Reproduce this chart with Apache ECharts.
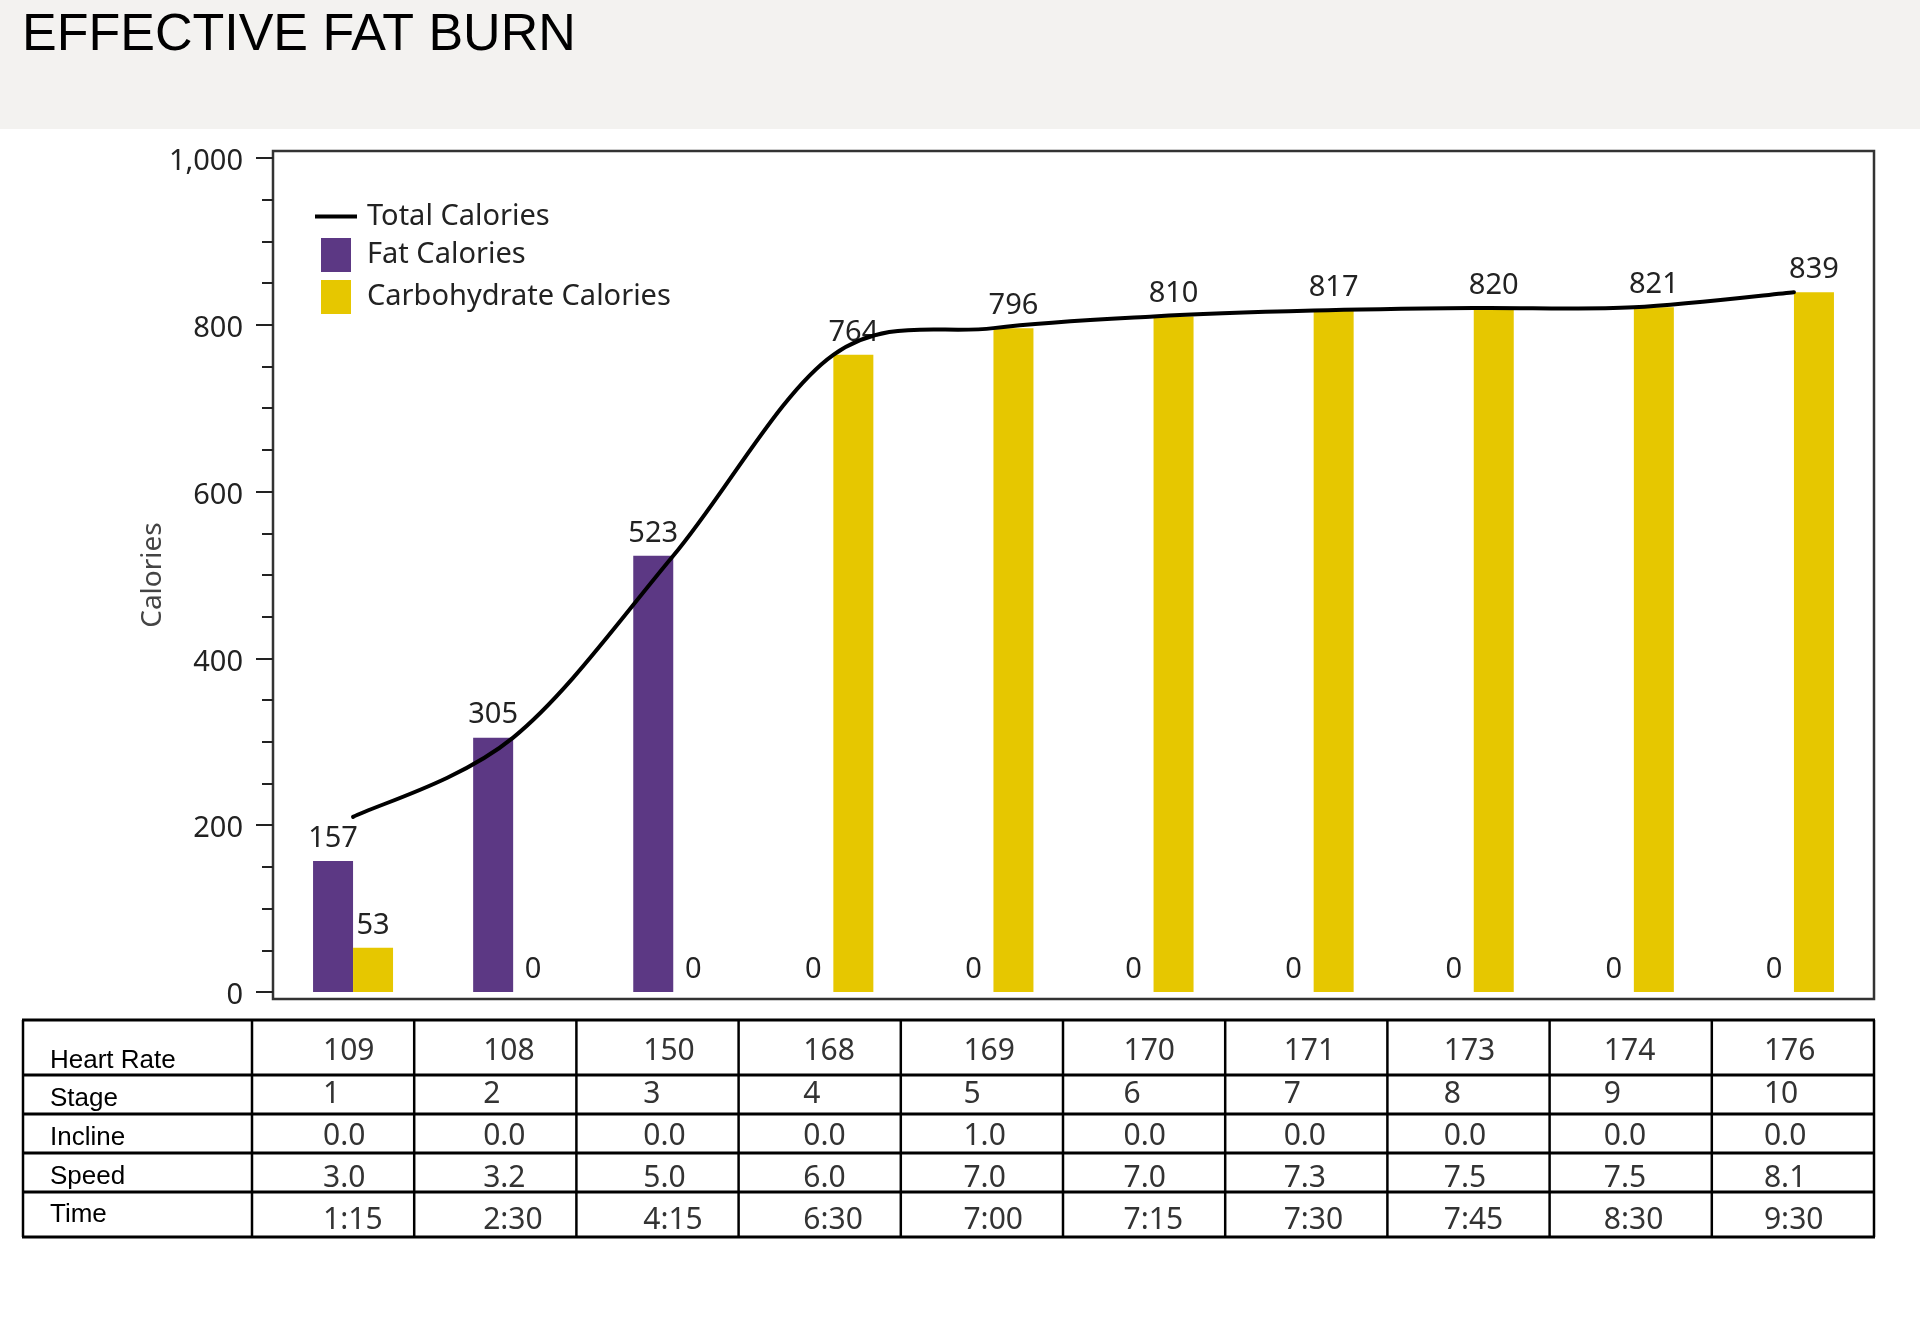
<!DOCTYPE html>
<html><head><meta charset="utf-8">
<script src="https://cdn.jsdelivr.net/npm/echarts@6/dist/echarts.min.js"></script>
<style>html,body{margin:0;padding:0;background:#fff;} #c{width:1920px;height:1325px;}</style>
</head><body><div id="c"></div>
<script>
// ---- data ----
const stages = ['1','2','3','4','5','6','7','8','9','10'];
const fatCalories = [157,305,523,0,0,0,0,0,0,0];
const carbCalories = [53,0,0,764,796,810,817,820,821,839];
const totalCalories = [210,305,523,764,796,810,817,820,821,839];
const heartRate = ['109','108','150','168','169','170','171','173','174','176'];
const incline = ['0.0','0.0','0.0','0.0','1.0','0.0','0.0','0.0','0.0','0.0'];
const speed = ['3.0','3.2','5.0','6.0','7.0','7.0','7.3','7.5','7.5','8.1'];
const time = ['1:15','2:30','4:15','6:30','7:00','7:15','7:30','7:45','8:30','9:30'];
const rowLabels = ['Heart Rate','Stage','Incline','Speed','Time'];
const tableRows = [heartRate, stages, incline, speed, time];

const FONT = 'Noto Sans';
const labelStyle = {show:true, position:'top', distance:8, fontFamily:FONT, fontSize:29, color:'#222'};

// smooth (Catmull-Rom) total line, drawn through the chart's own scales
function renderTotal(params, api){
  if (params.dataIndex !== 0) return;
  const pts = totalCalories.map((v,i)=>api.coord([i,v]));
  const n = pts.length;
  let d = 'M' + pts[0][0] + ',' + pts[0][1];
  for (let i=0;i<n-1;i++){
    const p0 = pts[Math.max(i-1,0)], p1 = pts[i], p2 = pts[i+1], p3 = pts[Math.min(i+2,n-1)];
    const c1x = p1[0] + (p2[0]-p0[0])/6, c1y = p1[1] + (p2[1]-p0[1])/6;
    const c2x = p2[0] - (p3[0]-p1[0])/6, c2y = p2[1] - (p3[1]-p1[1])/6;
    d += ' C' + c1x + ',' + c1y + ' ' + c2x + ',' + c2y + ' ' + p2[0] + ',' + p2[1];
  }
  return {type:'path', shape:{pathData:d}, style:{stroke:'#000', lineWidth:4, fill:'none', lineCap:'round', lineJoin:'round'}};
}

const option = {
  backgroundColor:'#fff',
  animation:false,
  title:{text:'EFFECTIVE FAT BURN', left:17, top:5,
    textStyle:{fontFamily:'Liberation Sans', fontSize:52, fontWeight:'normal', color:'#000'}},
  legend:[
    {data:['Total Calories'], left:315, top:202, padding:0, selectedMode:false,
     icon:'rect', itemWidth:42, itemHeight:4,
     textStyle:{fontFamily:FONT, fontSize:29, color:'#222', padding:[0,0,0,5]}},
    {data:[{name:'Fat Calories', icon:'rect'},{name:'Carbohydrate Calories', icon:'rect'}],
     orient:'vertical', left:321, top:238, padding:0, selectedMode:false,
     itemWidth:30, itemHeight:34, itemGap:8,
     textStyle:{fontFamily:FONT, fontSize:29, color:'#222', padding:[0,0,0,11]}}
  ],
  grid:[
    {left:273, right:46, top:151, bottom:326, show:true, borderColor:'#333', borderWidth:2.5, backgroundColor:'transparent'},
    {left:273, right:46, top:158, bottom:333}
  ],
  xAxis:[
    {gridIndex:0, type:'category', data:stages, show:false},
    {gridIndex:1, type:'category', data:stages, boundaryGap:true,
     axisLine:{show:false}, axisTick:{show:false}, axisLabel:{show:false}, splitLine:{show:false}}
  ],
  yAxis:[
    {gridIndex:0, type:'value', show:false, splitLine:{show:false}},
    {gridIndex:1, type:'value', min:0, max:1000, interval:200,
     name:'Calories', nameLocation:'middle', nameGap:106, nameMoveOverlap:false,
     nameTextStyle:{fontFamily:FONT, fontSize:28, lineHeight:28, color:'#444'},
     axisLine:{show:false},
     axisTick:{show:true, length:17, lineStyle:{color:'#222', width:2}},
     minorTick:{show:true, splitNumber:4, length:11, lineStyle:{color:'#222', width:2}},
     splitLine:{show:false},
     axisLabel:{margin:30, fontFamily:FONT, fontSize:29, color:'#222', verticalAlign:'top', lineHeight:8,
       formatter:v=>v.toLocaleString('en-US')}}
  ],
  series:[
    {name:'Fat Calories', type:'bar', xAxisIndex:1, yAxisIndex:1, data:fatCalories,
     barWidth:40, barGap:'0%', itemStyle:{color:'#5c3884'}, label:labelStyle},
    {name:'Carbohydrate Calories', type:'bar', xAxisIndex:1, yAxisIndex:1, data:carbCalories,
     barWidth:40, barGap:'0%', itemStyle:{color:'#e6c700'}, label:labelStyle},
    {name:'Total Calories', type:'custom', xAxisIndex:1, yAxisIndex:1, coordinateSystem:'cartesian2d',
     data:totalCalories.map((v,i)=>[i,v]), encode:{x:0,y:1}, z:5,
     itemStyle:{color:'#000'}, renderItem:renderTotal}
  ]
};

const chart = echarts.init(document.getElementById('c'), null, {renderer:'canvas'});
chart.setOption(option);

// ---- table below the chart, aligned to the chart's category axis ----
const colX = stages.map((s,i) => chart.convertToPixel({xAxisIndex:1}, i));
const tLeft = 23, tRight = 1874, labelRight = 252;
const rowLines = [1020,1075,1114,1153,1192,1237];
const valueY = [1051,1094,1136,1178,1220];
const labelY = [1061,1099,1138,1177,1215];
const g = [];
g.push({type:'rect', left:0, top:0, z:-10, shape:{width:1920, height:129}, style:{fill:'#f3f2f0'}});
rowLines.forEach(y => g.push({type:'line', z:10, shape:{x1:tLeft-1, y1:y, x2:tRight+1, y2:y}, style:{stroke:'#000', lineWidth:3}}));
const nCols = stages.length;
const colW = (tRight - labelRight) / nCols;
g.push({type:'line', z:10, shape:{x1:tLeft, y1:rowLines[0], x2:tLeft, y2:rowLines[5]}, style:{stroke:'#000', lineWidth:2.5}});
for (let k=0;k<=nCols;k++){
  const x = labelRight + k*colW;
  g.push({type:'line', z:10, shape:{x1:x, y1:rowLines[0], x2:x, y2:rowLines[5]}, style:{stroke:'#000', lineWidth:2.5}});
}
rowLabels.forEach((lab, r) => {
  g.push({type:'text', z:10, x:50, y:labelY[r], style:{text:lab, fontFamily:'Liberation Sans', fontSize:26, fill:'#000', textAlign:'left', textVerticalAlign:'middle'}});
  tableRows[r].forEach((v, i) => {
    g.push({type:'text', z:10, x:colX[i]-30, y:valueY[r], style:{text:v, fontFamily:FONT, fontSize:30, fill:'#333', textAlign:'left', textVerticalAlign:'middle'}});
  });
});
chart.setOption({graphic:g});
</script>
</body></html>
